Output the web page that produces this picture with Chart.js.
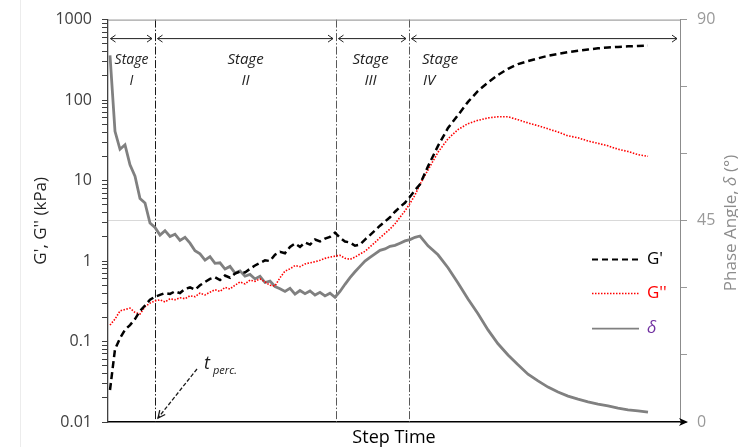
<!DOCTYPE html>
<html>
<head>
<meta charset="utf-8">
<script src="https://cdn.jsdelivr.net/npm/chart.js@4.4.1/dist/chart.umd.min.js"></script>
<style>
  html, body { margin: 0; padding: 0; background: #fff; }
</style>
</head>
<body>
<canvas id="rheoChart" width="738" height="447"></canvas>
<script>
const FONT = '"Open Sans", sans-serif';

// step time (arbitrary units, the original axis has no tick labels)
const stepTime = [2, 7, 12, 17, 22, 27, 32, 37, 42, 47, 52, 57, 62, 67, 72, 77, 82, 87, 92, 97,
  102, 107, 112, 117, 122, 127, 132, 137, 142, 147, 152, 157, 162, 167, 172, 177, 182, 187, 192, 197,
  202, 207, 212, 217, 222, 227, 232, 237, 242, 247, 252, 257, 262, 267, 272, 277, 282, 287, 292, 297,
  302, 307, 312, 320, 330, 340, 350, 360, 370, 380, 390, 400, 410, 420, 430, 440, 450, 460, 470, 480,
  490, 500, 510, 520, 530, 540];

// G' storage modulus (kPa)
const storageModulus = [0.025, 0.08, 0.11, 0.14, 0.16, 0.19, 0.24, 0.28, 0.33, 0.36,
  0.38, 0.40, 0.39, 0.42, 0.40, 0.45, 0.47, 0.44, 0.50, 0.55,
  0.60, 0.63, 0.58, 0.66, 0.62, 0.70, 0.74, 0.72, 0.80, 0.88,
  0.95, 1.02, 1.0, 1.2, 1.3, 1.25, 1.5, 1.65, 1.5, 1.7,
  1.6, 1.85, 1.75, 1.9, 2.0, 2.25, 1.95, 1.75, 1.7, 1.55,
  1.6, 1.85, 2.1, 2.4, 2.75, 3.1, 3.5, 4.1, 4.7, 5.3,
  6.3, 7.6, 9.0,
  15, 27, 45, 65, 95, 130, 165, 205, 245, 280, 305, 330, 355, 375, 395, 410, 425, 440, 450, 458, 465, 470, 475];

// G'' loss modulus (kPa)
const lossModulus = [0.16, 0.19, 0.24, 0.25, 0.26, 0.23, 0.22, 0.27, 0.30, 0.32,
  0.33, 0.31, 0.34, 0.33, 0.35, 0.34, 0.37, 0.36, 0.40, 0.38,
  0.41, 0.44, 0.42, 0.47, 0.45, 0.50, 0.55, 0.52, 0.58, 0.56,
  0.60, 0.55, 0.50, 0.49, 0.62, 0.75, 0.80, 0.88, 0.85, 0.92,
  0.95, 0.98, 1.02, 1.08, 1.12, 1.15, 1.18, 1.08, 1.05, 1.12,
  1.22, 1.32, 1.5, 1.7, 1.95, 2.2, 2.5, 2.9, 3.5, 4.2,
  5.2, 6.6, 9.0,
  13.5, 22.5, 33, 43, 51, 56, 60, 62, 62, 57, 52, 48, 44, 40, 36, 34, 31, 29, 27, 24.5, 23, 21, 20];

// phase angle delta (deg)
const phaseAngle = [82, 65, 61, 62, 57.5, 55, 50, 49, 44.5, 43.5,
  41.8, 42.8, 41.5, 42, 40.6, 41.3, 40, 38.3, 37.6, 36.2,
  37, 35.5, 35.6, 34.2, 34.8, 33.3, 33.8, 32.6, 33, 32,
  32.6, 31.2, 31.5, 30.3, 29.8, 29.2, 29.9, 28.6, 29.4, 28.7,
  29.3, 28.4, 29, 28.2, 28.8, 27.9, 29.2, 30.8, 32.3, 33.6,
  34.8, 36, 36.8, 37.6, 38.4, 38.7, 39.3, 39.5, 40, 40.5,
  40.8, 41.3, 41.6,
  39.4, 37.4, 34.5, 31.1, 27.5, 24.2, 20.6, 17.5, 15, 12.8, 10.7, 9.2, 7.8, 6.7, 5.8, 5.1, 4.5, 4.0, 3.6, 3.1, 2.7, 2.5, 2.2];

const leftTickValues = [0.01, 0.1, 1, 10, 100, 1000];
const leftTickLabels = ['0.01', '0.1', '1', '10', '100', '1000'];
const rightTickValues = [0, 45, 90];
const rightTickLabels = ['0', '45', '90'];

const stageBounds = [47, 228, 301];   // step time where the stages change
const stageNames = ['I', 'II', 'III', 'IV'];
const timeMax = 572;

// minor ticks 1..9 in every decade
const logTicks = [];
for (let e = -2; e <= 3; e++) {
  for (let m = 1; m <= 9; m++) {
    const v = parseFloat(m + 'e' + e);
    if (v <= 1000) logTicks.push(v);
  }
}

function pts(arr) {
  return stepTime.map((t, i) => ({ x: t, y: arr[i] }));
}

function chevron(ctx, x, y, dir) {
  ctx.beginPath();
  ctx.moveTo(x - dir * 5, y - 3.5);
  ctx.lineTo(x, y);
  ctx.lineTo(x - dir * 5, y + 3.5);
  ctx.stroke();
}

const overlay = {
  id: 'overlay',
  beforeDraw(chart) {
    const ctx = chart.ctx;
    ctx.save();
    ctx.fillStyle = '#ececec';
    ctx.fillRect(20, 0, 1, chart.height);
    ctx.restore();
  },
  beforeDatasetsDraw(chart) {
    const { ctx, chartArea: a, scales: { x } } = chart;
    ctx.save();
    ctx.lineWidth = 1;
    ctx.setLineDash([8, 2, 1.5, 2]);
    stageBounds.forEach((b, i) => {
      const px = Math.round(x.getPixelForValue(b)) + 0.5;
      ctx.strokeStyle = i === 0 ? '#1a1a1a' : '#595959';
      ctx.beginPath();
      ctx.moveTo(px, a.top);
      ctx.lineTo(px, a.bottom);
      ctx.stroke();
    });
    ctx.restore();
  },
  afterDatasetsDraw(chart) {
    const { ctx, chartArea: a, scales: { x } } = chart;
    ctx.save();

    // top border
    ctx.strokeStyle = '#8c8c8c';
    ctx.lineWidth = 1;
    ctx.beginPath();
    ctx.moveTo(a.left, a.top + 0.5);
    ctx.lineTo(a.right, a.top + 0.5);
    ctx.stroke();

    // x axis arrow
    ctx.strokeStyle = '#000';
    ctx.lineWidth = 1.5;
    ctx.beginPath();
    ctx.moveTo(a.right, a.bottom);
    ctx.lineTo(a.right + 4, a.bottom);
    ctx.stroke();
    ctx.fillStyle = '#000';
    ctx.beginPath();
    ctx.moveTo(a.right + 8, a.bottom);
    ctx.lineTo(a.right - 1, a.bottom - 4);
    ctx.lineTo(a.right + 1.5, a.bottom);
    ctx.lineTo(a.right - 1, a.bottom + 4);
    ctx.closePath();
    ctx.fill();

    // stage arrows and names
    const edges = [0, ...stageBounds, timeMax].map(v => x.getPixelForValue(v));
    const ay = a.top + 19;
    ctx.strokeStyle = '#222';
    ctx.lineWidth = 1;
    ctx.fillStyle = '#222';
    ctx.textBaseline = 'middle';
    for (let i = 0; i < 4; i++) {
      const x0 = edges[i] + 2.5, x1 = edges[i + 1] - 3;
      ctx.beginPath();
      ctx.moveTo(x0, ay);
      ctx.lineTo(x1, ay);
      ctx.stroke();
      chevron(ctx, x0, ay, -1);
      chevron(ctx, x1, ay, 1);

      ctx.font = 'italic ' + (i === 0 ? 14 : 15) + 'px ' + FONT;
      if (i < 3) {
        const cx = (edges[i] + edges[i + 1]) / 2 - (i === 2 ? 2 : 0);
        ctx.textAlign = 'center';
        ctx.fillText('Stage', cx, a.top + 40);
        ctx.fillText(stageNames[i], cx, a.top + 61);
      } else {
        ctx.textAlign = 'left';
        ctx.fillText('Stage', edges[i] + 13, a.top + 40);
        ctx.fillText(stageNames[i], edges[i] + 14, a.top + 61);
      }
    }

    // percolation time marker
    const bx = edges[1];
    const sx = bx + 42, sy = a.bottom - 53, ex = bx + 3, ey = a.bottom - 4;
    ctx.strokeStyle = '#1a1a1a';
    ctx.lineWidth = 1.3;
    ctx.setLineDash([4, 2]);
    ctx.beginPath();
    ctx.moveTo(sx, sy);
    ctx.lineTo(ex, ey);
    ctx.stroke();
    ctx.setLineDash([]);
    const ang = Math.atan2(ey - sy, ex - sx);
    ctx.beginPath();
    ctx.moveTo(ex - 8 * Math.cos(ang - 0.45), ey - 8 * Math.sin(ang - 0.45));
    ctx.lineTo(ex, ey);
    ctx.lineTo(ex - 8 * Math.cos(ang + 0.45), ey - 8 * Math.sin(ang + 0.45));
    ctx.stroke();
    ctx.fillStyle = '#1a1a1a';
    ctx.textAlign = 'left';
    ctx.textBaseline = 'alphabetic';
    ctx.font = 'italic 18px ' + FONT;
    ctx.fillText('t', bx + 49, a.bottom - 53);
    ctx.font = 'italic 11px ' + FONT;
    ctx.fillText('perc.', bx + 58, a.bottom - 48);

    // legend
    const lx = a.right - 88;
    const rows = [
      { y: a.top + 240, color: '#000', dash: [6, 4], w: 2, label: "G'", labelColor: '#000', italic: false },
      { y: a.top + 274, color: '#ff0000', dash: [1.5, 1.5], w: 1.5, label: "G''", labelColor: '#ff0000', italic: false },
      { y: a.top + 309, color: '#808080', dash: [], w: 1.8, label: 'δ', labelColor: '#7030a0', italic: true }
    ];
    rows.forEach(r => {
      ctx.strokeStyle = r.color;
      ctx.lineWidth = r.w;
      ctx.setLineDash(r.dash);
      ctx.beginPath();
      ctx.moveTo(lx, r.y);
      ctx.lineTo(lx + 47, r.y);
      ctx.stroke();
      ctx.setLineDash([]);
      ctx.fillStyle = r.labelColor;
      ctx.font = (r.italic ? 'italic ' : '') + '17px ' + FONT;
      ctx.textBaseline = 'middle';
      ctx.fillText(r.label, lx + 55, r.y);
    });

    // right axis title, reads bottom to top
    const parts = [['Phase Angle, ', ''], ['δ', 'italic '], [' (°)', '']];
    ctx.fillStyle = '#8c8c8c';
    ctx.translate(731, 223);
    ctx.rotate(-Math.PI / 2);
    let total = 0;
    parts.forEach(p => { ctx.font = p[1] + '17px ' + FONT; total += ctx.measureText(p[0]).width; });
    let cx = -total / 2;
    ctx.textBaseline = 'middle';
    parts.forEach(p => {
      ctx.font = p[1] + '17px ' + FONT;
      ctx.fillText(p[0], cx, 0);
      cx += ctx.measureText(p[0]).width;
    });

    ctx.restore();
  }
};

new Chart(document.getElementById('rheoChart'), {
  type: 'line',
  data: {
    datasets: [
      {
        label: "G'",
        data: pts(storageModulus),
        yAxisID: 'y',
        borderColor: '#000',
        borderWidth: 2.5,
        borderDash: [7, 4],
        pointRadius: 0
      },
      {
        label: "G''",
        data: pts(lossModulus),
        yAxisID: 'y',
        borderColor: '#ff0000',
        borderWidth: 1.6,
        borderDash: [1.5, 1.5],
        pointRadius: 0
      },
      {
        label: 'δ',
        data: pts(phaseAngle),
        yAxisID: 'y1',
        borderColor: '#808080',
        borderWidth: 2.8,
        pointRadius: 0
      }
    ]
  },
  options: {
    responsive: false,
    animation: false,
    layout: { padding: { top: 19, left: 0, right: 0, bottom: 0 } },
    plugins: { legend: { display: false }, tooltip: { enabled: false } },
    scales: {
      x: {
        type: 'linear',
        min: 0,
        max: timeMax,
        ticks: { display: false },
        grid: { display: false },
        border: { color: '#000', width: 1.5 },
        title: {
          display: true,
          text: 'Step Time',
          color: '#000',
          font: { family: FONT, size: 18, lineHeight: 1 },
          padding: { top: 0, bottom: 0 }
        },
        afterFit: s => { s.height = 25; }
      },
      y: {
        type: 'logarithmic',
        position: 'left',
        min: 0.01,
        max: 1000,
        afterBuildTicks: s => { s.ticks = logTicks.map(v => ({ value: v })); },
        ticks: {
          autoSkip: false,
          padding: 10,
          color: '#404040',
          font: { family: FONT, size: 16 },
          callback: v => {
            const i = leftTickValues.indexOf(v);
            return i >= 0 ? leftTickLabels[i] : '';
          }
        },
        grid: { drawOnChartArea: false, tickLength: 6, tickColor: '#404040' },
        border: { color: '#404040', width: 1.3 },
        title: {
          display: true,
          text: "G', G'' (kPa)",
          color: '#222',
          font: { family: FONT, size: 17, lineHeight: 1 },
          padding: { top: 33, bottom: 0 }
        },
        afterFit: s => { s.width = 108; }
      },
      y1: {
        type: 'linear',
        position: 'right',
        min: 0,
        max: 90,
        ticks: {
          stepSize: 15,
          autoSkip: false,
          padding: 10,
          color: '#999',
          font: { family: FONT, size: 16 },
          callback: v => {
            const i = rightTickValues.indexOf(v);
            return i >= 0 ? rightTickLabels[i] : '';
          }
        },
        grid: {
          color: c => (c.tick && c.tick.value === 45 ? '#d9d9d9' : 'rgba(0,0,0,0)'),
          tickColor: '#999',
          tickLength: 7
        },
        border: { color: '#8c8c8c', width: 1 },
        afterFit: s => { s.width = 58; }
      }
    }
  },
  plugins: [overlay]
});
</script>
</body>
</html>
